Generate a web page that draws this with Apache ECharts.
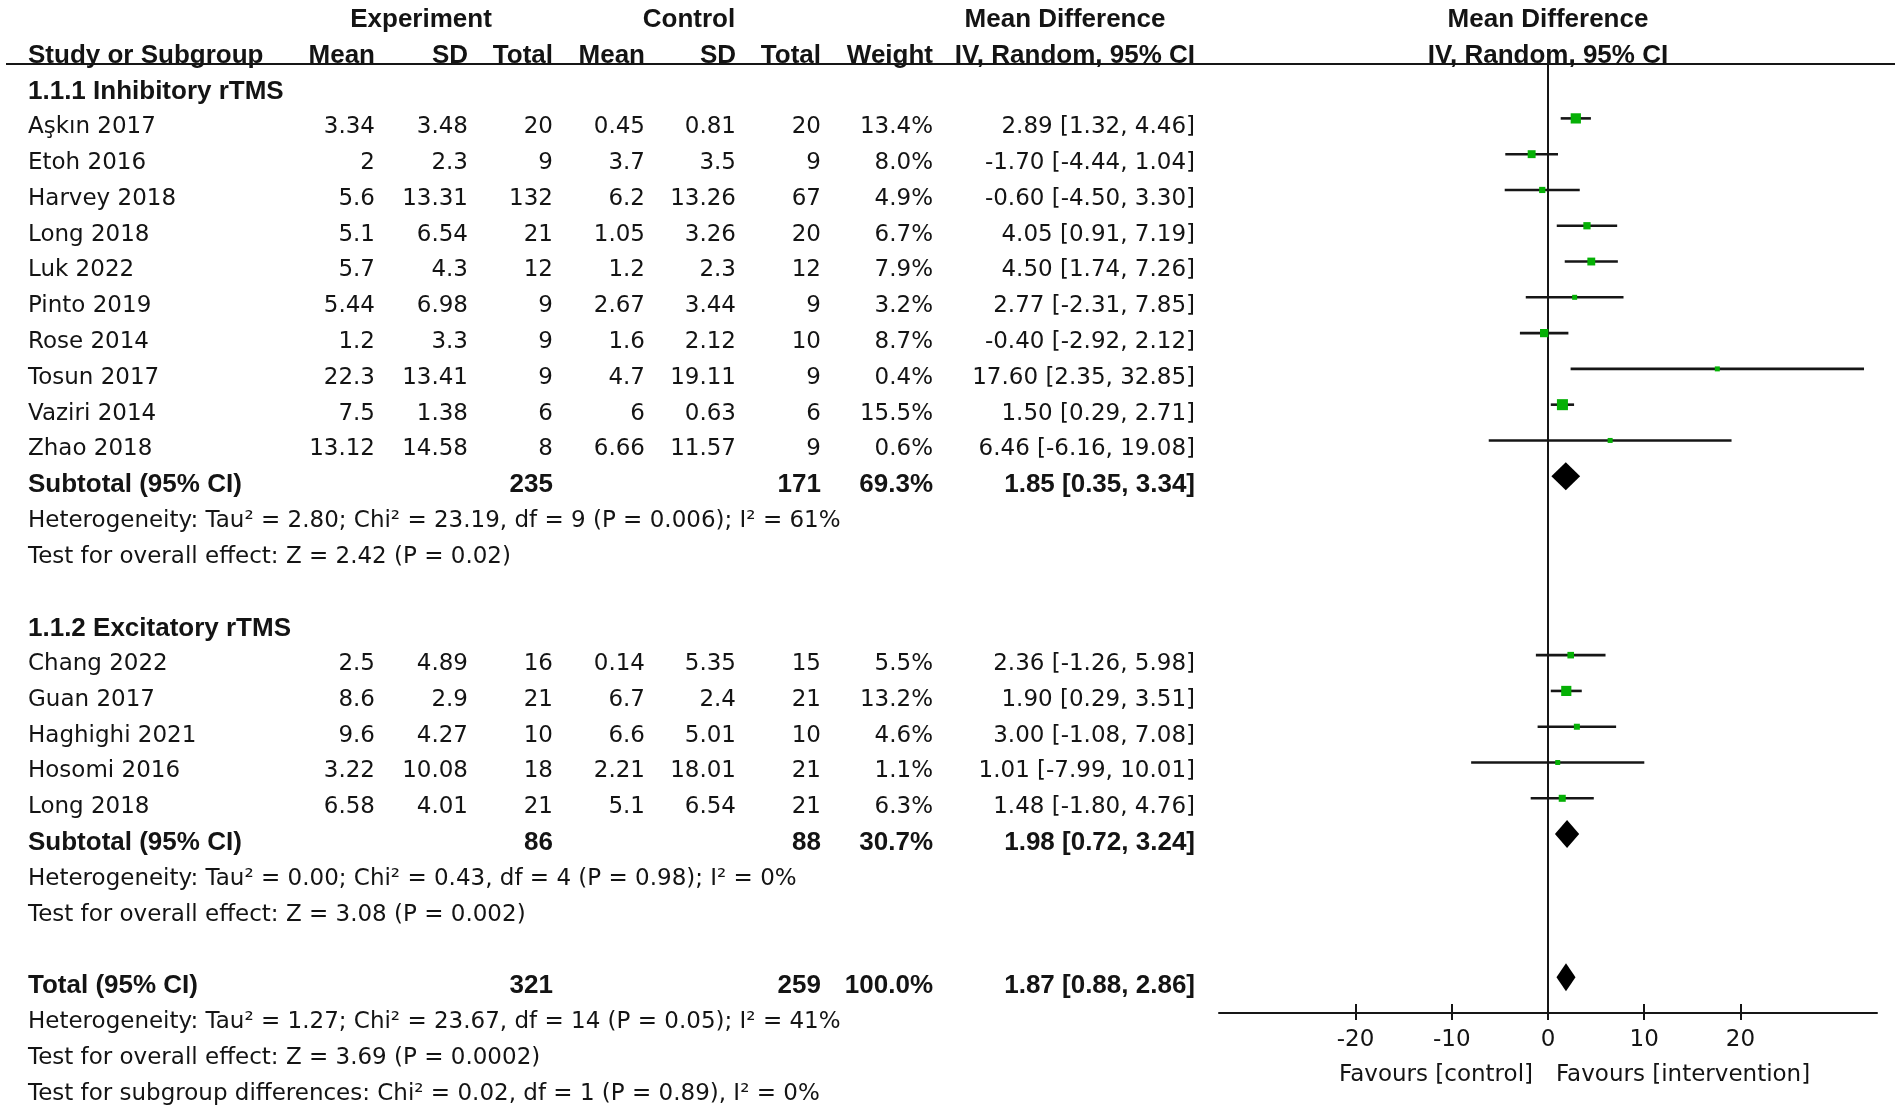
<!DOCTYPE html>
<html><head><meta charset="utf-8">
<script src="https://cdn.jsdelivr.net/npm/echarts@6/dist/echarts.min.js"></script>
<style>html,body{margin:0;padding:0;background:#fff}#c{width:1902px;height:1108px}</style>
</head><body><div id="c"></div>
<script>
// ---------------- DATA ----------------
const groupLabels = ['1.1.1 Inhibitory rTMS', '1.1.2 Excitatory rTMS'];

const studies1   = ['Aşkın 2017','Etoh 2016','Harvey 2018','Long 2018','Luk 2022','Pinto 2019','Rose 2014','Tosun 2017','Vaziri 2014','Zhao 2018'];
const expMean1   = [3.34, 2, 5.6, 5.1, 5.7, 5.44, 1.2, 22.3, 7.5, 13.12];
const expSD1     = [3.48, 2.3, 13.31, 6.54, 4.3, 6.98, 3.3, 13.41, 1.38, 14.58];
const expN1      = [20, 9, 132, 21, 12, 9, 9, 9, 6, 8];
const ctlMean1   = [0.45, 3.7, 6.2, 1.05, 1.2, 2.67, 1.6, 4.7, 6, 6.66];
const ctlSD1     = [0.81, 3.5, 13.26, 3.26, 2.3, 3.44, 2.12, 19.11, 0.63, 11.57];
const ctlN1      = [20, 9, 67, 20, 12, 9, 10, 9, 6, 9];
const weight1    = [13.4, 8.0, 4.9, 6.7, 7.9, 3.2, 8.7, 0.4, 15.5, 0.6];
const md1        = [2.89, -1.70, -0.60, 4.05, 4.50, 2.77, -0.40, 17.60, 1.50, 6.46];
const lo1        = [1.32, -4.44, -4.50, 0.91, 1.74, -2.31, -2.92, 2.35, 0.29, -6.16];
const hi1        = [4.46, 1.04, 3.30, 7.19, 7.26, 7.85, 2.12, 32.85, 2.71, 19.08];

const studies2   = ['Chang 2022','Guan 2017','Haghighi 2021','Hosomi 2016','Long 2018'];
const expMean2   = [2.5, 8.6, 9.6, 3.22, 6.58];
const expSD2     = [4.89, 2.9, 4.27, 10.08, 4.01];
const expN2      = [16, 21, 10, 18, 21];
const ctlMean2   = [0.14, 6.7, 6.6, 2.21, 5.1];
const ctlSD2     = [5.35, 2.4, 5.01, 18.01, 6.54];
const ctlN2      = [15, 21, 10, 21, 21];
const weight2    = [5.5, 13.2, 4.6, 1.1, 6.3];
const md2        = [2.36, 1.90, 3.00, 1.01, 1.48];
const lo2        = [-1.26, 0.29, -1.08, -7.99, -1.80];
const hi2        = [5.98, 3.51, 7.08, 10.01, 4.76];

const pooledLabels = ['Subtotal (95% CI)', 'Subtotal (95% CI)', 'Total (95% CI)'];
const pooledExpN   = [235, 86, 321];
const pooledCtlN   = [171, 88, 259];
const pooledWeight = [69.3, 30.7, 100.0];
const pooledMD     = [1.85, 1.98, 1.87];
const pooledLo     = [0.35, 0.72, 0.88];
const pooledHi     = [3.34, 3.24, 2.86];

const hetText = [
  'Heterogeneity: Tau² = 2.80; Chi² = 23.19, df = 9 (P = 0.006); I² = 61%',
  'Heterogeneity: Tau² = 0.00; Chi² = 0.43, df = 4 (P = 0.98); I² = 0%',
  'Heterogeneity: Tau² = 1.27; Chi² = 23.67, df = 14 (P = 0.05); I² = 41%'
];
const effectText = [
  'Test for overall effect: Z = 2.42 (P = 0.02)',
  'Test for overall effect: Z = 3.08 (P = 0.002)',
  'Test for overall effect: Z = 3.69 (P = 0.0002)'
];
const subgroupText = 'Test for subgroup differences: Chi² = 0.02, df = 1 (P = 0.89), I² = 0%';

const xTicks = [-20, -10, 0, 10, 20];
const favourLabels = ['Favours [control]', 'Favours [intervention]'];

// ---------------- LAYOUT / STYLE ----------------
const FONT_R = "'DejaVu Sans', sans-serif";
const FONT_B = "'Liberation Sans', Arial, sans-serif";
const FS_R = 23;
const FS_B = 26;
const TXT = '#141414';
const TEXT_DY = 9;
const COLS = {
  name: {x: 28,  align: 'left'},
  em:   {x: 375, align: 'right'},
  esd:  {x: 468, align: 'right'},
  et:   {x: 553, align: 'right'},
  cm:   {x: 645, align: 'right'},
  csd:  {x: 736, align: 'right'},
  ct:   {x: 821, align: 'right'},
  w:    {x: 933, align: 'right'},
  ci:   {x: 1195, align: 'right'},
  hExp: {x: 421, align: 'center'},
  hCtl: {x: 689, align: 'center'},
  hMD:  {x: 1065, align: 'center'},
  zero: {x: null, align: 'center'}
};
function fontOf(bold) { return bold ? 'bold ' + FS_B + 'px ' + FONT_B : FS_R + 'px ' + FONT_R; }

// ---------------- BUILD ROWS ----------------
const table = [];
const ciRows = [], sqRows = [], dmRows = [];
function fmtCI(m, l, h) { return m.toFixed(2) + ' [' + l.toFixed(2) + ', ' + h.toFixed(2) + ']'; }
function add(i, cells) { table.push({i, cells}); }

add(-2, [['hExp','Experiment',1],['hCtl','Control',1],['hMD','Mean Difference',1],['zero','Mean Difference',1]]);
add(-1, [['name','Study or Subgroup',1],['em','Mean',1],['esd','SD',1],['et','Total',1],['cm','Mean',1],['csd','SD',1],['ct','Total',1],['w','Weight',1],['ci','IV, Random, 95% CI',1],['zero','IV, Random, 95% CI',1]]);

const groups = [
  {names: studies1, em: expMean1, esd: expSD1, en: expN1, cm: ctlMean1, csd: ctlSD1, cn: ctlN1, w: weight1, md: md1, lo: lo1, hi: hi1, start: 0},
  {names: studies2, em: expMean2, esd: expSD2, en: expN2, cm: ctlMean2, csd: ctlSD2, cn: ctlN2, w: weight2, md: md2, lo: lo2, hi: hi2, start: 15}
];
groups.forEach((g, gi) => {
  let r = g.start;
  add(r, [['name', groupLabels[gi], 1]]);
  g.names.forEach((n, k) => {
    r++;
    add(r, [['name', n], ['em', String(g.em[k])], ['esd', String(g.esd[k])], ['et', String(g.en[k])],
            ['cm', String(g.cm[k])], ['csd', String(g.csd[k])], ['ct', String(g.cn[k])],
            ['w', g.w[k].toFixed(1) + '%'], ['ci', fmtCI(g.md[k], g.lo[k], g.hi[k])]]);
    ciRows.push([g.lo[k], g.hi[k], r]);
    sqRows.push([g.md[k], r, g.w[k]]);
  });
  r++;
  add(r, [['name', pooledLabels[gi], 1], ['et', String(pooledExpN[gi]), 1], ['ct', String(pooledCtlN[gi]), 1],
          ['w', pooledWeight[gi].toFixed(1) + '%', 1], ['ci', fmtCI(pooledMD[gi], pooledLo[gi], pooledHi[gi]), 1]]);
  dmRows.push([pooledLo[gi], pooledMD[gi], pooledHi[gi], r]);
  add(r + 1, [['name', hetText[gi]]]);
  add(r + 2, [['name', effectText[gi]]]);
});
add(25, [['name', pooledLabels[2], 1], ['et', String(pooledExpN[2]), 1], ['ct', String(pooledCtlN[2]), 1],
         ['w', pooledWeight[2].toFixed(1) + '%', 1], ['ci', fmtCI(pooledMD[2], pooledLo[2], pooledHi[2]), 1]]);
dmRows.push([pooledLo[2], pooledMD[2], pooledHi[2], 25]);
add(26, [['name', hetText[2]]]);
add(27, [['name', effectText[2]]]);
add(28, [['name', subgroupText]]);

// ---------------- CHART ----------------
const chart = echarts.init(document.getElementById('c'), null, {renderer: 'canvas'});
const lineCol = '#161616';
const option = {
  animation: false,
  backgroundColor: '#fff',
  grid: {left: 1219, right: 25, top: 64, bottom: 95, containLabel: false},
  xAxis: [
    {type: 'value', min: -34.2, max: 34.2, position: 'bottom',
     axisLine: {onZero: false, lineStyle: {color: lineCol, width: 2}},
     axisTick: {show: true, inside: false, length: 7, customValues: xTicks, lineStyle: {color: lineCol, width: 2}},
     axisLabel: {customValues: xTicks, margin: 16, fontSize: FS_R, fontFamily: FONT_R, color: TXT},
     splitLine: {show: false}},
    {type: 'value', min: -34.2, max: 34.2, position: 'bottom',
     axisLine: {show: false, onZero: false},
     axisTick: {show: true, inside: true, length: 9, customValues: xTicks, lineStyle: {color: lineCol, width: 2}},
     axisLabel: {show: false}, splitLine: {show: false}}
  ],
  yAxis: {type: 'value', inverse: true, min: -0.52, max: 26,
    axisLine: {show: true, onZero: true, lineStyle: {color: lineCol, width: 2}},
    axisTick: {show: false}, axisLabel: {show: false}, splitLine: {show: false}},
  graphic: [
    {type: 'line', shape: {x1: 6, y1: 64, x2: 1895, y2: 64}, style: {stroke: lineCol, lineWidth: 2}, z: 10},
    {type: 'text', x: 1533, y: 1075, style: {text: favourLabels[0], font: fontOf(0), fill: TXT, align: 'right', textAlign: 'right', verticalAlign: 'middle', textVerticalAlign: 'middle'}},
    {type: 'text', x: 1556, y: 1075, style: {text: favourLabels[1], font: fontOf(0), fill: TXT, align: 'left', textAlign: 'left', verticalAlign: 'middle', textVerticalAlign: 'middle'}}
  ],
  series: [
    {type: 'custom', name: 'ci', silent: true, clip: false, z: 2, data: ciRows,
     renderItem: (p, api) => {
       const a = api.coord([api.value(0), api.value(2)]);
       const b = api.coord([api.value(1), api.value(2)]);
       return {type: 'line', shape: {x1: a[0], y1: a[1], x2: b[0], y2: b[1]}, style: {stroke: lineCol, lineWidth: 2.6}};
     }},
    {type: 'scatter', name: 'est', silent: true, z: 3, data: sqRows, symbol: 'rect',
     symbolSize: v => Math.max(5, 2.8 * Math.sqrt(v[2])),
     itemStyle: {color: '#05b005', opacity: 1}},
    {type: 'custom', name: 'pooled', silent: true, clip: false, z: 3, data: dmRows,
     renderItem: (p, api) => {
       const row = api.value(3);
       const L = api.coord([api.value(0), row]);
       const M = api.coord([api.value(1), row]);
       const R = api.coord([api.value(2), row]);
       const h = 14;
       return {type: 'polygon', shape: {points: [[L[0], L[1]], [M[0], M[1] - h], [R[0], R[1]], [M[0], M[1] + h]]}, style: {fill: '#000'}};
     }},
    {type: 'custom', name: 'table', silent: true, clip: false, z: 5, data: table.map(r => [0, r.i]),
     renderItem: (p, api) => {
       const r = table[p.dataIndex];
       const pt = api.coord([0, r.i]);
       const y = pt[1] + TEXT_DY;
       return {type: 'group', children: r.cells.map(c => {
         const col = COLS[c[0]];
         const x = col.x === null ? pt[0] : col.x;
         return {type: 'text', x: x, y: y, style: {text: c[1], font: fontOf(c[2]),
           fill: TXT, align: col.align, textAlign: col.align, verticalAlign: 'middle', textVerticalAlign: 'middle'}};
       })};
     }}
  ]
};
chart.setOption(option);
</script></body></html>
